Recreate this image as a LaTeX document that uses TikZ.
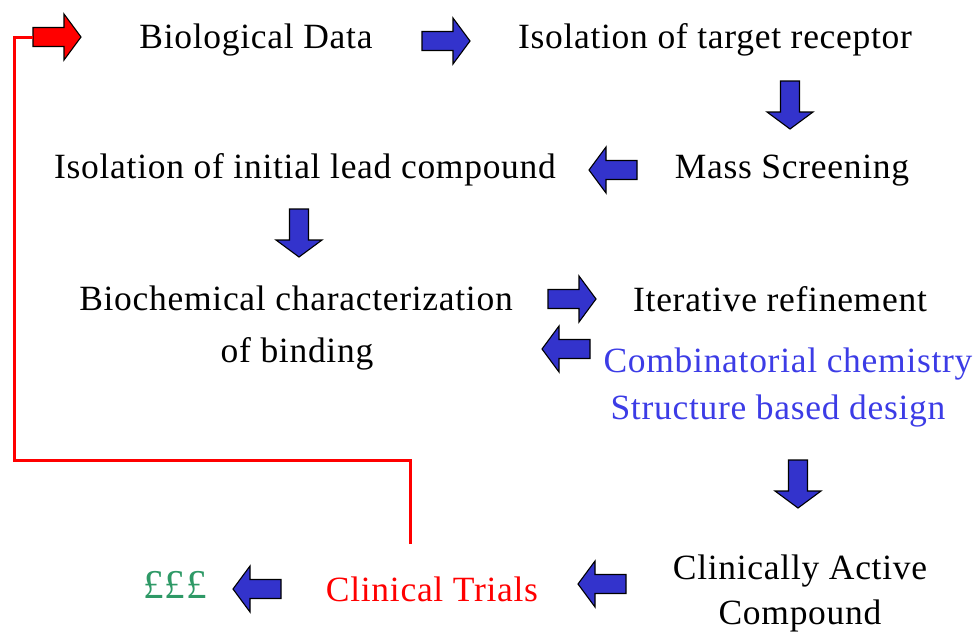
\documentclass[tikz,border=0pt]{standalone}
\usepackage{fontspec}
\setmainfont{Liberation Serif}[LetterSpace=2]
\definecolor{arrowblue}{HTML}{3333CC}
\definecolor{textblue}{HTML}{3C3CE6}
\definecolor{moneygreen}{HTML}{2E9966}
\definecolor{loopred}{HTML}{FF0000}
\tikzset{
  x=1pt, y=1pt,
  label text/.style={inner sep=0pt, anchor=base, font=\fontsize{35.5}{42}\selectfont},
  % block arrow pointing right, centred on the pic origin
  blockarrow/.pic={
    \draw[line width=1.1pt, line join=miter, pic actions]
      (-24,-9.5) -- (7,-9.5) -- (7,-23) -- (24,0) -- (7,23) -- (7,9.5) -- (-24,9.5) -- cycle;
    \coordinate (-tail) at (-24,0);
    \coordinate (-tip) at (24,0);
  },
  bluearrow/.style={fill=arrowblue, draw=black},
  redarrow/.style={fill=loopred, draw=black},
}
\begin{document}
\begin{tikzpicture}
\useasboundingbox (0,0) rectangle (976,-633);

% stages
\node[label text] (bio)   at (256,-48)  {Biological Data};
\node[label text] (iso)   at (715,-48)  {Isolation of target receptor};
\node[label text] (mass)  at (792,-178) {Mass Screening};
\node[label text] (lead)  at (305,-178) {Isolation of initial lead compound};
\node[label text] (chemA) at (296,-310) {Biochemical characterization};
\node[label text] (chemB) at (297,-362) {of binding};
\node[label text] (iter)  at (780,-311) {Iterative refinement};
\node[label text, text=textblue] (comb)   at (788,-372) {Combinatorial chemistry};
\node[label text, text=textblue] (struct) at (778,-419) {Structure based design};
\node[label text] (activeA) at (800,-579) {Clinically Active};
\node[label text] (activeB) at (800,-624) {Compound};
\node[label text, text=loopred] (trials) at (432,-601) {Clinical Trials};
\node[label text, text=moneygreen, font=\fontsize{41}{46}\selectfont] (money) at (175,-598) {£££};

% flow arrows
\pic[bluearrow]               at (446,-41)  {blockarrow};
\pic[bluearrow, rotate=-90]   at (790,-105) {blockarrow};
\pic[bluearrow, rotate=180]   at (613,-170) {blockarrow};
\pic[bluearrow, rotate=-90]   at (299,-233) {blockarrow};
\pic[bluearrow]               at (572,-299) {blockarrow};
\pic[bluearrow, rotate=180]   at (566,-349) {blockarrow};
\pic[bluearrow, rotate=-90]   at (798,-484) {blockarrow};
\pic[bluearrow, rotate=180]   at (602,-584) {blockarrow};
\pic[bluearrow, rotate=180]   at (257,-589) {blockarrow};

% feedback loop from the trials back to the start
\pic[redarrow] (restart) at (57,-37) {blockarrow};
\coordinate (loopstart) at ([yshift=32pt]trials.north -| 410,0);
\draw[loopred, line width=3pt, line join=miter]
  (loopstart) -- (410,-460) -- (14,-460) -- (14,-37) -- (restart-tail);
\end{tikzpicture}
\end{document}
